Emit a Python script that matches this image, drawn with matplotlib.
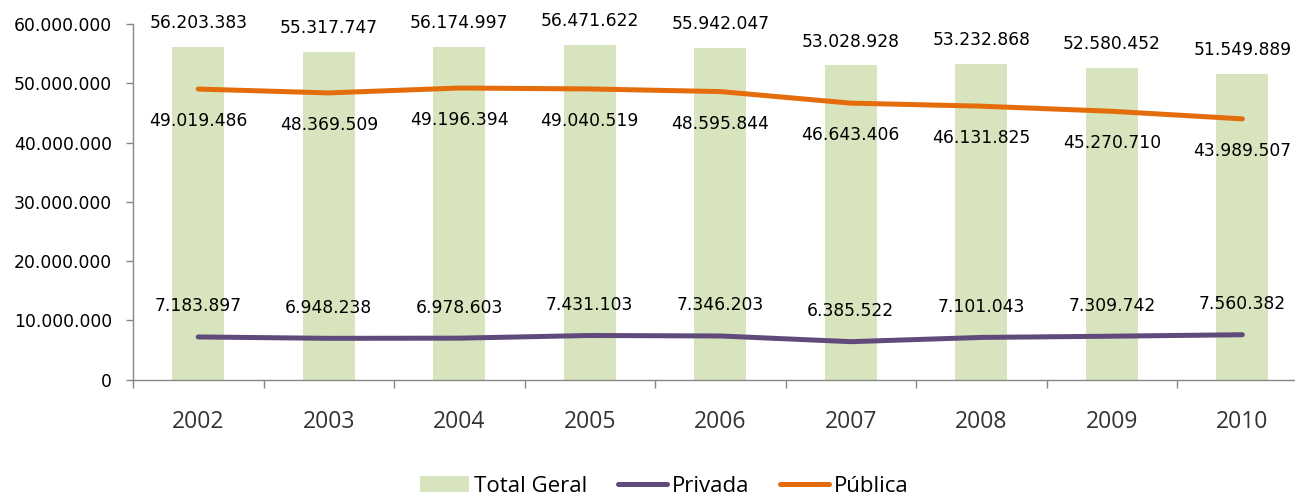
import matplotlib
matplotlib.use("Agg")
import matplotlib.pyplot as plt
from matplotlib.ticker import FuncFormatter, FixedLocator

years = ["2002", "2003", "2004", "2005", "2006", "2007", "2008", "2009", "2010"]
total_geral = [56203383, 55317747, 56174997, 56471622, 55942047,
               53028928, 53232868, 52580452, 51549889]
publica = [49019486, 48369509, 49196394, 49040519, 48595844,
           46643406, 46131825, 45270710, 43989507]
privada = [7183897, 6948238, 6978603, 7431103, 7346203,
           6385522, 7101043, 7309742, 7560382]

BAR_COLOR = "#D7E4BD"
PUB_COLOR = "#E46C0A"
PRIV_COLOR = "#604A7B"
AXIS_COLOR = "#868686"
CAT_FONT = "Open Sans"


def fmt_br(v):
    return f"{int(v):,}".replace(",", ".")


fig = plt.figure(figsize=(12.95, 4.97), dpi=100)
ax = fig.add_axes([0.1027, 0.2364, 0.9070, 0.7153])

x = list(range(len(years)))
bars = ax.bar(x, total_geral, width=0.4, color=BAR_COLOR, label="Total Geral", zorder=1)
l_priv, = ax.plot(x, privada, color=PRIV_COLOR, lw=3.6, solid_capstyle="round",
                  label="Privada", zorder=2)
l_pub, = ax.plot(x, publica, color=PUB_COLOR, lw=3.6, solid_capstyle="round",
                 label="Pública", zorder=2)

# data labels
for i in x:
    ax.annotate(fmt_br(total_geral[i]), (i, total_geral[i]), xytext=(0, 17),
                textcoords="offset points", ha="center", va="center",
                fontsize=12.3, color="black")
    ax.annotate(fmt_br(publica[i]), (i, publica[i]), xytext=(0, -23),
                textcoords="offset points", ha="center", va="center",
                fontsize=12.3, color="black")
    ax.annotate(fmt_br(privada[i]), (i, privada[i]), xytext=(0, 22),
                textcoords="offset points", ha="center", va="center",
                fontsize=12.3, color="black")

ax.set_xlim(-0.5, len(years) - 0.5)
ax.set_ylim(0, 60000000)
ax.set_yticks(range(0, 60000001, 10000000))
ax.yaxis.set_major_formatter(FuncFormatter(lambda v, p: fmt_br(v)))
ax.tick_params(axis="y", direction="out", length=5, width=1, color=AXIS_COLOR,
               pad=10, labelsize=12.4)

ax.set_xticks(x)
ax.set_xticklabels(years, fontfamily=CAT_FONT, fontsize=16.5, color="#333333")
ax.tick_params(axis="x", which="major", length=0, pad=22)
ax.xaxis.set_minor_locator(FixedLocator([i - 0.5 for i in range(len(years) + 1)]))
ax.tick_params(axis="x", which="minor", direction="out", length=6, width=1,
               color=AXIS_COLOR)

for side in ("top", "right"):
    ax.spines[side].set_visible(False)
for side in ("left", "bottom"):
    ax.spines[side].set_color(AXIS_COLOR)
    ax.spines[side].set_linewidth(1)

fig.legend([bars, l_priv, l_pub], ["Total Geral", "Privada", "Pública"],
           loc="center", bbox_to_anchor=(0.513, 0.022), ncol=3, frameon=False,
           prop={"family": CAT_FONT, "size": 16}, handlelength=2.2,
           handleheight=0.7, handletextpad=0.2, columnspacing=1.4)

fig.savefig("out.png", dpi=100)
